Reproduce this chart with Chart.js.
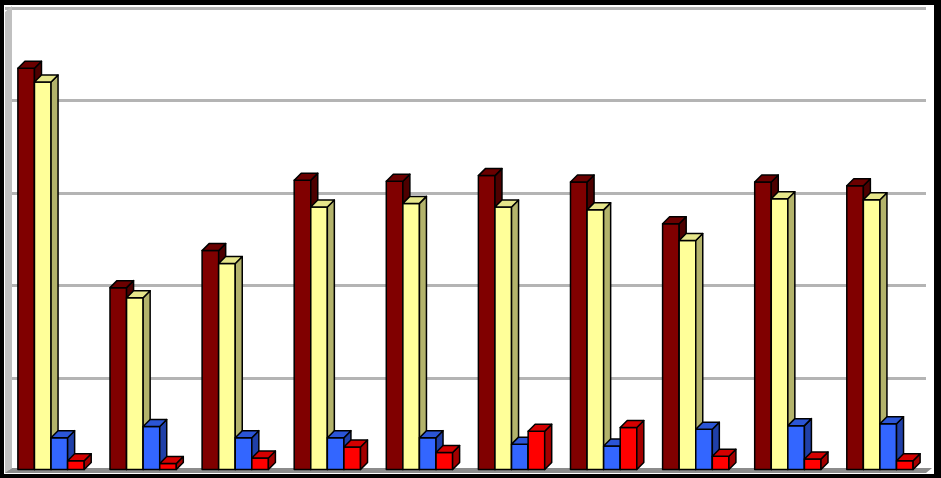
<!DOCTYPE html>
<html>
<head>
<meta charset="utf-8">
<script src="https://cdn.jsdelivr.net/npm/chart.js@4"></script>
<style>
  html, body { margin: 0; padding: 0; background: #fff; }
  #wrap { width: 941px; height: 478px; }
</style>
</head>
<body>
<div id="wrap"><canvas id="barChart" width="941" height="478"></canvas></div>
<script>
// datos
const categorias = ['1', '2', '3', '4', '5', '6', '7', '8', '9', '10'];
const serie1 = [4.35, 1.98, 2.38, 3.14, 3.13, 3.19, 3.12, 2.67, 3.12, 3.08];
const serie2 = [4.20, 1.87, 2.24, 2.85, 2.89, 2.85, 2.82, 2.49, 2.94, 2.93];
const serie3 = [0.36, 0.48, 0.36, 0.36, 0.36, 0.29, 0.27, 0.45, 0.49, 0.51];
const serie4 = [0.11, 0.08, 0.14, 0.26, 0.20, 0.43, 0.47, 0.16, 0.13, 0.11];
const ticksY = [0, 1, 2, 3, 4, 5];

// colores: frente, lateral, arriba
const caras = [
    ['#800000', '#4d0000', '#6a0000'],
    ['#ffff99', '#b3b36b', '#e6e68a'],
    ['#3366ff', '#2040a8', '#2b55d6'],
    ['#ff0000', '#a30000', '#d40000']
];

const prof = 7;

// barras en 3D: se redibujan serie por serie en orden (0 primero)
const barras3d = {
    id: 'barras3d',
    afterDatasetsDraw(chart) {
        const ctx = chart.ctx;
        chart.data.datasets.forEach((ds, i) => {
            const c = caras[i];
            chart.getDatasetMeta(i).data.forEach(bar => {
                const w = bar.width;
                const l = bar.x - w / 2, r = bar.x + w / 2;
                const t = bar.y, b = bar.base;
                ctx.save();
                ctx.lineWidth = 1.5;
                ctx.strokeStyle = '#000';
                ctx.lineJoin = 'round';
                // frente
                ctx.fillStyle = c[0];
                ctx.fillRect(l, t, w, b - t);
                ctx.strokeRect(l, t, w, b - t);
                // lateral
                ctx.beginPath();
                ctx.moveTo(r, t);
                ctx.lineTo(r + prof, t - prof);
                ctx.lineTo(r + prof, b - prof);
                ctx.lineTo(r, b);
                ctx.closePath();
                ctx.fillStyle = c[1];
                ctx.fill();
                ctx.stroke();
                // arriba
                ctx.beginPath();
                ctx.moveTo(l, t);
                ctx.lineTo(l + prof, t - prof);
                ctx.lineTo(r + prof, t - prof);
                ctx.lineTo(r, t);
                ctx.closePath();
                ctx.fillStyle = c[2];
                ctx.fill();
                ctx.stroke();
                ctx.restore();
            });
        });
    }
};

// marco negro, pared y piso gris
const marco = {
    id: 'marco',
    beforeDatasetsDraw(chart) {
        const ctx = chart.ctx;
        const a = chart.chartArea;
        ctx.save();
        // pared izquierda
        ctx.fillStyle = '#c0c0c0';
        ctx.beginPath();
        ctx.moveTo(5, a.top + 4);
        ctx.lineTo(12, a.top - 2);
        ctx.lineTo(12, a.bottom - 3);
        ctx.lineTo(5, a.bottom + 2);
        ctx.closePath();
        ctx.fill();
        // piso
        ctx.fillStyle = '#8c8c8c';
        ctx.beginPath();
        ctx.moveTo(5, a.bottom + 2);
        ctx.lineTo(12, a.bottom - 3);
        ctx.lineTo(932, a.bottom - 3);
        ctx.lineTo(926, a.bottom + 2);
        ctx.closePath();
        ctx.fill();
        ctx.restore();
    },
    afterDraw(chart) {
        const ctx = chart.ctx;
        ctx.save();
        ctx.fillStyle = '#000';
        ctx.fillRect(0, 0, 941, 5);
        ctx.fillRect(0, 0, 4, 478);
        ctx.fillRect(934, 0, 7, 478);
        ctx.fillRect(0, 474, 941, 4);
        ctx.restore();
    }
};

const ctxBar = document.getElementById('barChart').getContext('2d');
new Chart(ctxBar, {
    type: 'bar',
    data: {
        labels: categorias,
        datasets: [
            { label: 'Serie 1', data: serie1, backgroundColor: caras[0][0] },
            { label: 'Serie 2', data: serie2, backgroundColor: caras[1][0] },
            { label: 'Serie 3', data: serie3, backgroundColor: caras[2][0] },
            { label: 'Serie 4', data: serie4, backgroundColor: caras[3][0] }
        ].map(ds => Object.assign(ds, {
            borderColor: '#000',
            borderWidth: 1.5,
            categoryPercentage: 0.72,
            barPercentage: 1
        }))
    },
    options: {
        responsive: false,
        animation: false,
        layout: {
            padding: { top: 8, bottom: 7, left: 5, right: 15 }
        },
        scales: {
            x: {
                display: false
            },
            y: {
                min: 0,
                max: 5,
                afterBuildTicks: axis => { axis.ticks = ticksY.map(v => ({ value: v })); },
                ticks: { display: false },
                grid: { color: '#b4b4b4', lineWidth: 3, drawTicks: false },
                border: { display: false }
            }
        },
        plugins: {
            legend: { display: false },
            tooltip: { enabled: false }
        }
    },
    plugins: [marco, barras3d]
});
</script>
</body>
</html>
